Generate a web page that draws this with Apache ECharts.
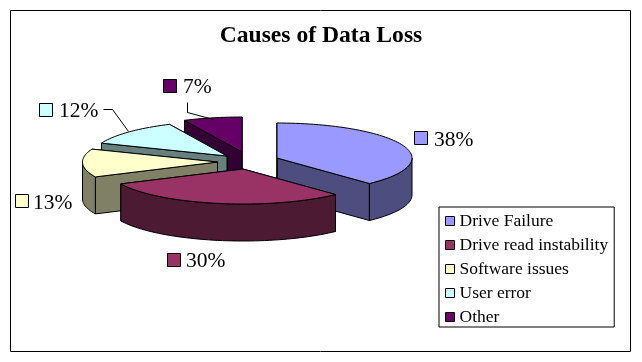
<!DOCTYPE html>
<html>
<head>
<meta charset="utf-8">
<style>html,body{margin:0;padding:0;background:#fff}#c{width:642px;height:362px}</style>
<script src="https://cdn.jsdelivr.net/npm/echarts@6/dist/echarts.min.js"></script>
</head>
<body>
<div id="c"></div>
<script>
const categories = ['Drive Failure', 'Drive read instability', 'Software issues', 'User error', 'Other'];
const values = [38, 30, 13, 12, 7];
const chartTitle = 'Causes of Data Loss';

// styling and layout only
const FONT = '"Liberation Serif","Times New Roman",serif';
const colors = ['#9999FF', '#993366', '#FFFFCC', '#CCFFFF', '#660066'];
const sideColors = ['#4D4D80', '#4D1A33', '#808066', '#668080', '#330033'];
const apexes = [[277, 158], [243, 169], [217.5, 162], [227, 156], [242, 152]];
const drawRank = [3, 4, 2, 1, 0];
const labelAt = [[414, 138], [167, 260], [15, 201], [39, 110], [163, 86]];
const textOffset = [[20, 2], [19, 1], [18, 2], [20, 1], [20, 1]];
const leaders = [null, null, null, [[103, 109], [112, 109], [128, 131]], [[187, 102], [187, 112], [213, 119]]];
const RX = 135, RY = 35, DEPTH = 37, KEY = 13;

const total = values.reduce((a, b) => a + b, 0);
const starts = [];
values.reduce((acc, v, i) => { starts[i] = acc; return acc + v; }, 0);

function rimPoint(apex, deg, drop) {
  const r = deg * Math.PI / 180;
  return [apex[0] + RX * Math.sin(r), apex[1] - RY * Math.cos(r) + (drop || 0)];
}
function arc(apex, from, to, drop) {
  const pts = [];
  const n = Math.max(2, Math.ceil((to - from) / 2));
  for (let i = 0; i <= n; i++) pts.push(rimPoint(apex, from + (to - from) * i / n, drop));
  return pts;
}
function poly(points, fill) {
  return { type: 'polygon', shape: { points }, style: { fill, stroke: '#000', lineWidth: 1 } };
}
function renderSlice(i) {
  return function () {
    const apex = apexes[i];
    const a0 = starts[i] / total * 360;
    const a1 = (starts[i] + values[i]) / total * 360;
    const side = sideColors[i];
    const down = [apex[0], apex[1] + DEPTH];
    const children = [];
    [a1, a0].forEach(function (a) {
      const p = rimPoint(apex, a), q = rimPoint(apex, a, DEPTH);
      children.push(poly([apex, p, q, down], side));
    });
    const v0 = Math.max(a0, 90), v1 = Math.min(a1, 270);
    if (v1 > v0) {
      children.push(poly(arc(apex, v0, v1, 0).concat(arc(apex, v0, v1, DEPTH).reverse()), side));
    }
    children.push(poly([apex].concat(arc(apex, a0, a1, 0)), colors[i]));
    const la = labelAt[i];
    children.push({ type: 'rect', shape: { x: la[0] + .5, y: la[1] - 7 + .5, width: KEY, height: KEY },
      style: { fill: colors[i], stroke: '#000', lineWidth: 1 } });
    children.push({ type: 'text', style: { text: values[i] + '%', x: la[0] + textOffset[i][0], y: la[1] + textOffset[i][1],
      font: '21.5px ' + FONT, fill: '#000', verticalAlign: 'middle', align: 'left' } });
    if (leaders[i]) {
      children.push({ type: 'polyline', shape: { points: leaders[i].map(p => [p[0] + .5, p[1] + .5]) },
        style: { fill: 'none', stroke: '#000', lineWidth: 1 } });
    }
    return { type: 'group', children };
  };
}

const chart = echarts.init(document.getElementById('c'), null, { renderer: 'canvas' });
chart.setOption({
  animation: false,
  backgroundColor: '#fff',
  title: {
    text: chartTitle, left: 321, top: 24, textAlign: 'center', padding: 0,
    textStyle: { fontFamily: FONT, fontSize: 23.6, fontWeight: 'bold', color: '#000' }
  },
  legend: {
    data: categories, orient: 'vertical', left: 439, top: 207,
    padding: [5, 6, 1, 6], itemGap: 6, itemWidth: 9, itemHeight: 9, icon: 'rect',
    borderColor: '#000', borderWidth: 1, backgroundColor: '#fff', z: 100,
    selectedMode: false,
    itemStyle: { borderColor: '#000', borderWidth: 1 },
    textStyle: { fontFamily: FONT, fontSize: 17.5, color: '#000', padding: 0, lineHeight: 16 }
  },
  graphic: [{
    type: 'rect', z: -1, silent: true,
    shape: { x: 10.5, y: 10.5, width: 620, height: 341 },
    style: { fill: '#fff', stroke: '#000', lineWidth: 1 }
  }],
  series: categories.map(function (name, i) {
    return {
      type: 'custom', name, coordinateSystem: 'none', silent: true,
      z: 2 + drawRank[i],
      itemStyle: { color: colors[i] },
      data: [[values[i]]],
      renderItem: renderSlice(i)
    };
  })
});
</script>
</body>
</html>
